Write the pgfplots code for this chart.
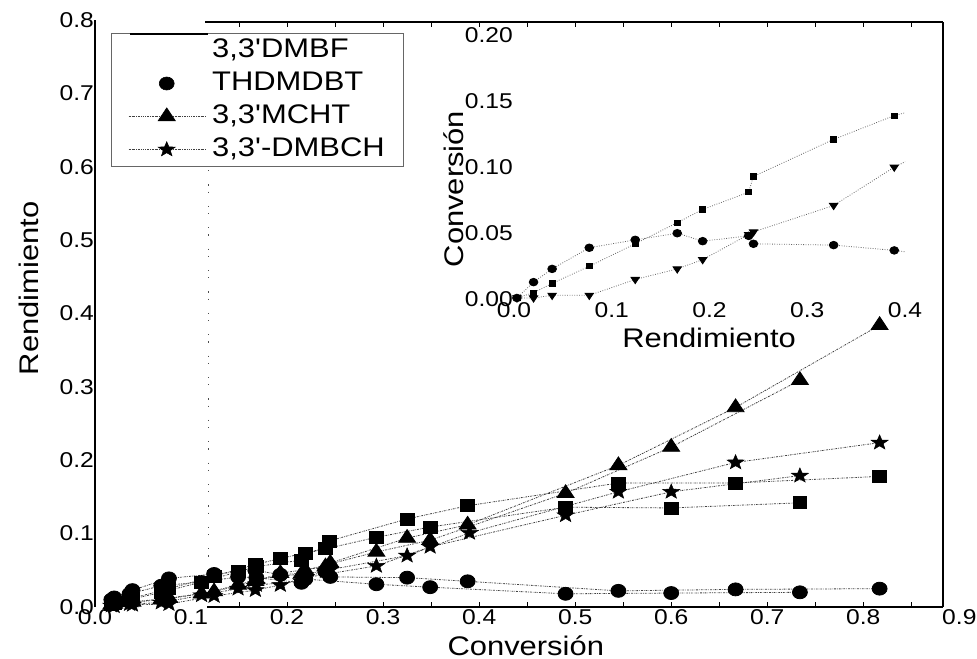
\documentclass[border=0pt]{standalone}
\usepackage{fontspec}
\setmainfont{Liberation Sans}[FakeStretch=1.15]
\newfontfamily\lfont{Liberation Sans}[FakeStretch=1.15]
\usepackage{pgfplots}
\pgfplotsset{compat=1.18}
\pgfdeclareplotmark{fstar}{%
 \pgfpathmoveto{\pgfpointpolar{90}{\pgfplotmarksize}}%
 \pgfpathlineto{\pgfpointpolar{126}{0.42\pgfplotmarksize}}%
 \pgfpathlineto{\pgfpointpolar{162}{\pgfplotmarksize}}%
 \pgfpathlineto{\pgfpointpolar{198}{0.42\pgfplotmarksize}}%
 \pgfpathlineto{\pgfpointpolar{234}{\pgfplotmarksize}}%
 \pgfpathlineto{\pgfpointpolar{270}{0.42\pgfplotmarksize}}%
 \pgfpathlineto{\pgfpointpolar{306}{\pgfplotmarksize}}%
 \pgfpathlineto{\pgfpointpolar{342}{0.42\pgfplotmarksize}}%
 \pgfpathlineto{\pgfpointpolar{18}{\pgfplotmarksize}}%
 \pgfpathlineto{\pgfpointpolar{54}{0.42\pgfplotmarksize}}%
 \pgfpathclose\pgfusepathqfillstroke}
\pgfplotsset{
  dl/.style={draw=black!75, line width=0.8bp, dash pattern=on 1.8bp off 1.1bp on 0.6bp off 1.1bp},
  msq/.style={dl, mark=square*, mark size=6bp, mark options={solid, fill=black, draw=black, xscale=1.15}},
  mci/.style={dl, mark=*, mark size=6.5bp, mark options={solid, fill=black, draw=black, xscale=1.15}},
  mtr/.style={dl, mark=triangle*, mark size=8.5bp, mark options={solid, fill=black, draw=black, xscale=1.15}},
  mst/.style={dl, mark=fstar, mark size=7.8bp, mark options={solid, fill=black, draw=black, line width=0.5bp, xscale=1.15}},
  il/.style={draw=black!60, line width=0.8bp, dash pattern=on 0.8bp off 1.6bp},
}
\begin{document}
\begin{tikzpicture}
\path[use as bounding box] (-95bp,-52bp) rectangle (882bp,607bp);
\begin{axis}[
  at={(0,0)}, anchor=south west,
  scale only axis, width=848bp, height=587bp,
  xmin=0, xmax=0.883, ymin=0, ymax=0.8,
  axis line style={draw=none},
  major tick length=0pt, minor tick length=0pt,
  xtick={0,0.1,0.2,0.3,0.4,0.5,0.6,0.7,0.8},
  ytick={0,0.1,0.2,0.3,0.4,0.5,0.6,0.7,0.8},
  tick label style={font=\fontsize{21.5}{24}\selectfont},
  /pgf/number format/.cd, fixed, fixed zerofill, precision=1, assume math mode=true,
  /pgfplots/.cd,
  xticklabel style={anchor=north, inner ysep=2.5bp},
  yticklabel style={anchor=east, inner xsep=1bp},
  xlabel={Conversión}, ylabel={Rendimiento},
  label style={font=\fontsize{27}{32}\selectfont},
  xlabel style={at={(axis description cs:0.508,-0.082)}, anchor=base},
  ylabel style={at={(axis description cs:-0.0672,0.543)}, anchor=base},
  clip=false,
  legend style={at={(axis cs:0.0167,0.782)}, anchor=north west, draw=black!60, line width=0.6bp, fill=white,
    inner xsep=17bp, inner ysep=2bp, row sep=3bp, column sep=4bp,
    font=\lfont\fontsize{27}{32}\selectfont,
    nodes={inner xsep=2bp, inner ysep=3bp, text height=19bp, text depth=5bp}},
  legend cell align=left,
  legend image code/.code={\draw[mark repeat=2,mark phase=2,#1] plot coordinates {(0bp,0bp) (38bp,0bp) (77bp,0bp)};},
]
% vertical dotted artefact line
\draw[black!70, line width=1.2bp, dash pattern=on 1.2bp off 6bp on 1.2bp off 13bp] (axis cs:0.118,0.78) -- (axis cs:0.118,0.02);
% inward ticks on top and bottom
\pgfplotsinvokeforeach{0.15,0.2,0.25,0.3,0.35,0.4,0.45,0.5,0.55,0.6,0.65,0.7,0.75,0.8,0.85}{
  \draw[line width=0.8bp] (axis cs:#1,0) -- ++(0,5bp);
  \draw[line width=0.8bp] (axis cs:#1,0.797) -- ++(0,-5bp);
}

% Set 1
\addplot[msq, forget plot] coordinates {(0.020,0.005) (0.039,0.012) (0.077,0.025) (0.124,0.042) (0.167,0.058) (0.193,0.066) (0.240,0.080) (0.244,0.090) (0.325,0.120) (0.388,0.138) (0.545,0.169) (0.667,0.169) (0.817,0.178)};
\addplot[mci, forget plot] coordinates {(0.020,0.013) (0.039,0.023) (0.077,0.039) (0.124,0.045) (0.167,0.050) (0.193,0.044) (0.240,0.048) (0.245,0.041) (0.325,0.040) (0.388,0.035) (0.545,0.022) (0.667,0.024) (0.817,0.025)};
\addplot[mtr, forget plot] coordinates {(0.020,0.004) (0.039,0.007) (0.077,0.012) (0.124,0.021) (0.167,0.035) (0.193,0.046) (0.240,0.055) (0.245,0.060) (0.325,0.094) (0.388,0.112) (0.545,0.193) (0.667,0.272) (0.817,0.384)};
\addplot[mst, forget plot] coordinates {(0.020,0.001) (0.039,0.003) (0.077,0.004) (0.124,0.015) (0.167,0.023) (0.193,0.030) (0.240,0.049) (0.245,0.051) (0.325,0.070) (0.390,0.101) (0.545,0.157) (0.667,0.197) (0.817,0.224)};
% Set 2
\addplot[msq, forget plot] coordinates {(0.017,0.004) (0.036,0.010) (0.069,0.020) (0.111,0.034) (0.149,0.048) (0.168,0.055) (0.215,0.064) (0.219,0.073) (0.293,0.095) (0.349,0.109) (0.490,0.136) (0.600,0.135) (0.734,0.142)};
\addplot[mci, forget plot] coordinates {(0.017,0.010) (0.036,0.018) (0.069,0.029) (0.111,0.034) (0.149,0.041) (0.168,0.040) (0.215,0.033) (0.219,0.038) (0.293,0.031) (0.349,0.027) (0.490,0.018) (0.600,0.019) (0.734,0.020)};
\addplot[mtr, forget plot] coordinates {(0.017,0.003) (0.036,0.006) (0.069,0.010) (0.111,0.018) (0.149,0.030) (0.168,0.038) (0.215,0.045) (0.219,0.050) (0.293,0.075) (0.349,0.091) (0.490,0.155) (0.600,0.218) (0.734,0.309)};
\addplot[mst, forget plot] coordinates {(0.017,0.002) (0.036,0.004) (0.069,0.006) (0.111,0.016) (0.149,0.025) (0.168,0.030) (0.215,0.035) (0.219,0.040) (0.293,0.056) (0.349,0.082) (0.490,0.125) (0.600,0.157) (0.734,0.179)};

\addlegendimage{empty legend}
\addlegendentry{3,3'DMBF}
\addlegendimage{only marks, mark=*, mark size=6.5bp, mark options={fill=black, draw=black, xscale=1.15}}
\addlegendentry{THDMDBT}
\addlegendimage{mtr}
\addlegendentry{3,3'MCHT}
\addlegendimage{mst}
\addlegendentry{3,3'-DMBCH}

\coordinate (BL) at (axis cs:0,0);
\coordinate (TL) at (axis cs:0,0.8);
\coordinate (B1) at (axis cs:0.117,0);
\coordinate (BR) at (axis cs:0.883,0);
\coordinate (T1) at (axis cs:0.115,0.797);
\coordinate (TR) at (axis cs:0.883,0.797);
\coordinate (S1) at (axis cs:0.036,0.781);
\coordinate (S2) at (axis cs:0.118,0.781);
\coordinate (L9) at (axis cs:0.9,0);
\end{axis}
% spines
\draw[line width=2.5bp] (BL) -- (TL);
\draw[line width=2.5bp] (B1) -- (BR);
\draw[line width=2bp] (T1) -- (TR);
\draw[line width=2bp] (BR) -- (TR);
\draw[line width=2.5bp] (S1) -- (S2);
\node[anchor=north, inner ysep=2.5bp, font=\fontsize{21.5}{24}\selectfont] at (L9) {0.9};

% inset
\begin{axis}[
  at={(419bp,307.7bp)}, anchor=south west,
  scale only axis, width=391bp, height=264.3bp,
  xmin=0, xmax=0.4, ymin=0, ymax=0.2,
  axis line style={draw=none},
  major tick length=0pt,
  xtick={0,0.1,0.2,0.3,0.4},
  ytick={0,0.05,0.1,0.15,0.2},
  tick label style={font=\fontsize{21.5}{24}\selectfont},
  xticklabel style={/pgf/number format/.cd, fixed, fixed zerofill, precision=1, assume math mode=true, /tikz/anchor=north, /tikz/inner ysep=3bp},
  yticklabel style={/pgf/number format/.cd, fixed, fixed zerofill, precision=2, assume math mode=true, /tikz/anchor=east, /tikz/inner xsep=1bp},
  scaled y ticks=false,
  xlabel={Rendimiento}, ylabel={Conversión},
  label style={font=\fontsize{27}{32}\selectfont},
  xlabel style={at={(axis description cs:0.499,-0.184)}, anchor=base},
  ylabel style={at={(axis description cs:-0.130,0.417)}, anchor=base},
  clip=true,
]
\addplot[il, mark=square*, mark size=2.6bp, mark options={solid, fill=black, draw=black, xscale=1.15}] coordinates {(0.003,0.001) (0.020,0.005) (0.039,0.012) (0.077,0.025) (0.124,0.042) (0.167,0.058) (0.193,0.068) (0.240,0.081) (0.245,0.093) (0.327,0.121) (0.389,0.139) (0.545,0.169)};
\addplot[il, mark=*, mark size=3.8bp, mark options={solid, fill=black, draw=black, xscale=1.15}] coordinates {(0.003,0.001) (0.020,0.013) (0.039,0.023) (0.077,0.039) (0.124,0.045) (0.167,0.050) (0.193,0.044) (0.240,0.048) (0.245,0.042) (0.327,0.041) (0.389,0.037) (0.545,0.022)};
\addplot[il, mark=triangle*, mark size=4.2bp, mark options={solid, fill=black, draw=black, rotate=180, xscale=1.15}] coordinates {(0.003,0.001) (0.020,0.001) (0.039,0.003) (0.077,0.003) (0.124,0.015) (0.167,0.023) (0.193,0.030) (0.240,0.049) (0.245,0.051) (0.327,0.071) (0.389,0.100) (0.545,0.157)};
\end{axis}
\end{tikzpicture}
\end{document}
